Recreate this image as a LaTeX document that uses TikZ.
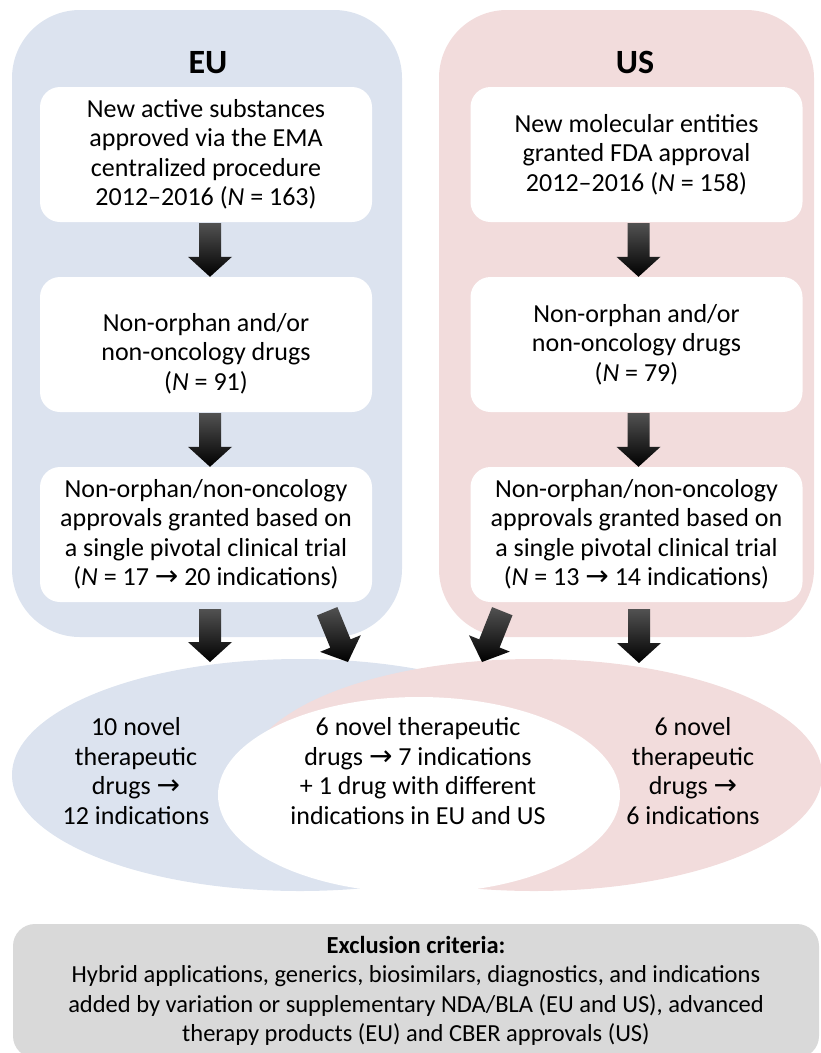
\documentclass[tikz,border=0pt]{standalone}
\usepackage{fontspec}
\setmainfont{Carlito}
\newfontfamily\symfont{DejaVu Sans}
\usetikzlibrary{calc,shapes.geometric}
\definecolor{eublue}{HTML}{DCE3EF}
\definecolor{uspink}{HTML}{F2DCDC}
\definecolor{exgray}{HTML}{D9D9D9}
\newcommand{\ra}{{\symfont\fontsize{28}{28}\selectfont →}}
\tikzset{
  panel/.style={rounded corners=68pt, inner sep=0pt, minimum height=627pt},
  stepbox/.style={fill=white, rounded corners=20pt, inner sep=0pt, minimum width=332pt, minimum height=135pt, align=center, font=\fontsize{26}{29.5}\selectfont},
  title/.style={font=\bfseries\fontsize{34}{38}\selectfont},
  blob/.style={ellipse, inner sep=0pt, draw=none},
  txt/.style={align=center, font=\fontsize{26}{29.5}\selectfont},
  arrowfill/.style={top color=black!68, bottom color=black, draw=none}
}
\newcommand{\blockarrow}[2]{%
  \coordinate (ba-a) at (#1);
  \coordinate (ba-b) at (#2);
  \coordinate (ba-h) at ($(ba-b)!20pt!(ba-a)$);
  \path[arrowfill]
    ($(ba-a)!11pt!90:(ba-b)$) --
    ($(ba-h)!11pt!-90:(ba-a)$) --
    ($(ba-h)!22pt!-90:(ba-a)$) --
    (ba-b) --
    ($(ba-h)!22pt!90:(ba-a)$) --
    ($(ba-h)!11pt!90:(ba-a)$) --
    ($(ba-a)!11pt!-90:(ba-b)$) -- cycle;
}
\begin{document}
\begin{tikzpicture}[x=1pt,y=-1pt]
\useasboundingbox (0,0) rectangle (821,1053);
% panels
\node[panel, fill=eublue, minimum width=390pt] (eupanel) at (207,323.5) {};
\node[panel, fill=uspink, minimum width=375pt] (uspanel) at (626.5,323.5) {};
\node[title] (eutitle) at (208,63) {EU};
\node[title] (ustitle) at (635,62) {US};
% EU boxes
\node[stepbox] (eu1) at (206,154.5) {New active substances\\approved via the EMA\\centralized procedure\\2012–2016 (\textit{N} = 163)};
\node[stepbox] (eu2) at (206,344.5) {};
\node[txt] (eu2txt) at ($(eu2.center)+(0,9)$) {Non-orphan and/or\\non-oncology drugs\\(\textit{N} = 91)};
\node[stepbox] (eu3) at (206,534.5) {Non-orphan/non-oncology\\approvals granted based on\\a single pivotal clinical trial\\(\textit{N} = 17 \ra{} 20 indications)};
% US boxes
\node[stepbox] (us1) at (636.5,154.5) {New molecular entities\\granted FDA approval\\2012–2016 (\textit{N} = 158)};
\node[stepbox] (us2) at (636.5,344.5) {Non-orphan and/or\\non-oncology drugs\\(\textit{N} = 79)};
\node[stepbox] (us3) at (636.5,534.5) {Non-orphan/non-oncology\\approvals granted based on\\a single pivotal clinical trial\\(\textit{N} = 13 \ra{} 14 indications)};
% ellipses
\node[blob, fill=eublue, minimum width=576pt, minimum height=232pt] (eublob) at (300,775) {};
\node[blob, fill=uspink, minimum width=576pt, minimum height=232pt] (usblob) at (534,775) {};
\node[blob, fill=white, minimum width=402pt, minimum height=196pt] (common) at (419,795) {};
\node[txt] (eutxt) at (136,771) {10 novel\\therapeutic\\drugs \ra\\12 indications};
\node[txt] (commontxt) at (418,771) {6 novel therapeutic\\drugs \ra{} 7 indications\\+ 1 drug with different\\indications in EU and US};
\node[txt] (ustxt) at (693,771) {6 novel\\therapeutic\\drugs \ra\\6 indications};
% arrow tips on the ellipses
\coordinate (tip-eu-l) at (210,662);
\coordinate (tip-eu-d) at (348,662);
\coordinate (tip-us-d) at (482,662);
\coordinate (tip-us-r) at (639,663);
% arrows
\blockarrow{$(eu1.south)+(4,1)$}{$(eu2.north)+(4,0)$}
\blockarrow{$(eu2.south)+(4,1)$}{$(eu3.north)+(4,0)$}
\blockarrow{$(us1.south)+(2,1)$}{$(us2.north)+(2,0)$}
\blockarrow{$(us2.south)+(2,1)$}{$(us3.north)+(2,0)$}
\blockarrow{$(eu3.south)+(4,7)$}{tip-eu-l}
\blockarrow{$(eu3.south east)+(-45,9)$}{tip-eu-d}
\blockarrow{$(us3.south west)+(32,9)$}{tip-us-d}
\blockarrow{$(us3.south)+(2.5,7)$}{tip-us-r}
% exclusion box
\node[fill=exgray, rounded corners=22pt, inner sep=0pt, minimum width=806pt, minimum height=134pt, align=center, font=\fontsize{24.5}{29.5}\selectfont] (excl) at (416,991) {\textbf{Exclusion criteria:}\\Hybrid applications, generics, biosimilars, diagnostics, and indications\\added by variation or supplementary NDA/BLA (EU and US), advanced\\therapy products (EU) and CBER approvals (US)};
\end{tikzpicture}
\end{document}
